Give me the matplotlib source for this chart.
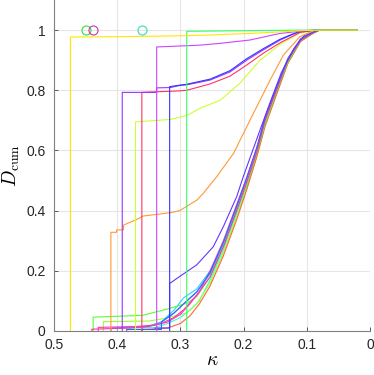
import matplotlib
matplotlib.use("Agg")
import matplotlib.pyplot as plt

# --- curves with a big jump at their first value ---
k_yellow = [0.474, 0.474, 0.40, 0.30, 0.25, 0.20, 0.15, 0.11, 0.08, 0.02]
d_yellow = [0, 0.977, 0.978, 0.981, 0.984, 0.988, 0.993, 0.998, 1, 1]

k_green = [0.29, 0.29, 0.20, 0.10, 0.02]
d_green = [0, 0.996, 0.998, 1, 1]

k_violet = [0.3375, 0.3375, 0.29, 0.269, 0.237, 0.19, 0.142, 0.111, 0.09, 0.02]
d_violet = [0, 0.944, 0.948, 0.95, 0.956, 0.967, 0.989, 0.996, 1, 1]

k_purple = [0.392, 0.392, 0.3375, 0.3375, 0.316, 0.301, 0.29, 0.253, 0.2215, 0.195, 0.169, 0.142, 0.121, 0.111, 0.087, 0.02]
d_purple = [0, 0.793, 0.793, 0.808, 0.809, 0.816, 0.818, 0.834, 0.861, 0.90, 0.934, 0.967, 0.987, 0.995, 1, 1]

k_blue = [0.317, 0.317, 0.301, 0.29, 0.253, 0.2215, 0.195, 0.169, 0.142, 0.121, 0.111, 0.087, 0.02]
d_blue = [0, 0.812, 0.817, 0.82, 0.837, 0.865, 0.905, 0.938, 0.97, 0.988, 0.995, 1, 1]

k_red = [0.361, 0.361, 0.301, 0.29, 0.253, 0.2215, 0.195, 0.169, 0.142, 0.121, 0.111, 0.087, 0.02]
d_red = [0, 0.793, 0.798, 0.80, 0.821, 0.847, 0.884, 0.923, 0.958, 0.981, 0.992, 1, 1]

k_ygreen = [0.371, 0.371, 0.316, 0.29, 0.269, 0.237, 0.206, 0.174, 0.142, 0.111, 0.085, 0.02]
d_ygreen = [0, 0.695, 0.703, 0.716, 0.74, 0.767, 0.823, 0.90, 0.953, 0.99, 1, 1]

k_orange = [0.41, 0.41, 0.401, 0.401, 0.39, 0.39, 0.369, 0.359, 0.316, 0.301, 0.274, 0.264, 0.2425, 0.216, 0.19, 0.174, 0.158, 0.137, 0.111, 0.087, 0.02]
d_orange = [0, 0.328, 0.328, 0.336, 0.336, 0.352, 0.371, 0.382, 0.393, 0.40, 0.435, 0.457, 0.513, 0.59, 0.70, 0.767, 0.834, 0.917, 0.978, 1, 1]

k_bviolet = [0.34, 0.317, 0.317, 0.295, 0.274, 0.248, 0.232, 0.211, 0.2005, 0.174, 0.158, 0.14, 0.12, 0.105, 0.085, 0.02]
d_bviolet = [0.01, 0.01, 0.158, 0.19, 0.22, 0.28, 0.347, 0.446, 0.513, 0.668, 0.76, 0.86, 0.94, 0.98, 1, 1]

# --- the main bundle ---
k_cyan = [0.36, 0.36, 0.33, 0.31, 0.295, 0.274, 0.253, 0.232, 0.211, 0.195, 0.179, 0.166, 0.148, 0.13, 0.11, 0.09, 0.08, 0.02]
d_cyan = [0, 0.01, 0.03, 0.07, 0.11, 0.14, 0.20, 0.29, 0.40, 0.49, 0.59, 0.69, 0.79, 0.895, 0.965, 0.99, 1, 1]

k_sky = [0.41, 0.41, 0.35, 0.33, 0.31, 0.295, 0.274, 0.253, 0.232, 0.211, 0.195, 0.179, 0.166, 0.148, 0.13, 0.11, 0.09, 0.08, 0.02]
d_sky = [0, 0.01, 0.015, 0.03, 0.06, 0.09, 0.13, 0.19, 0.29, 0.41, 0.505, 0.605, 0.705, 0.805, 0.90, 0.968, 0.992, 1, 1]

k_teal = [0.40, 0.40, 0.34, 0.32, 0.30, 0.285, 0.27, 0.253, 0.232, 0.211, 0.195, 0.179, 0.166, 0.148, 0.13, 0.11, 0.09, 0.08, 0.02]
d_teal = [0, 0.008, 0.012, 0.025, 0.045, 0.07, 0.10, 0.17, 0.27, 0.39, 0.48, 0.585, 0.69, 0.79, 0.89, 0.962, 0.99, 1, 1]

k_lime = [0.438, 0.438, 0.36, 0.317, 0.29, 0.274, 0.253, 0.232, 0.211, 0.195, 0.179, 0.166, 0.148, 0.13, 0.11, 0.09, 0.08, 0.02]
d_lime = [0, 0.046, 0.052, 0.075, 0.092, 0.115, 0.18, 0.28, 0.40, 0.49, 0.59, 0.69, 0.795, 0.895, 0.965, 0.99, 1, 1]

k_lime2 = [0.422, 0.422, 0.35, 0.33, 0.31, 0.29, 0.274, 0.253, 0.232, 0.211, 0.195, 0.179, 0.166, 0.148, 0.13, 0.11, 0.09, 0.08, 0.02]
d_lime2 = [0, 0.031, 0.033, 0.04, 0.05, 0.06, 0.09, 0.16, 0.26, 0.38, 0.475, 0.58, 0.685, 0.79, 0.89, 0.963, 0.99, 1, 1]

k_magenta = [0.43, 0.43, 0.37, 0.34, 0.32, 0.30, 0.285, 0.27, 0.253, 0.232, 0.211, 0.195, 0.179, 0.166, 0.148, 0.13, 0.11, 0.09, 0.08, 0.02]
d_magenta = [0, 0.012, 0.015, 0.02, 0.03, 0.055, 0.09, 0.13, 0.20, 0.30, 0.42, 0.51, 0.61, 0.71, 0.81, 0.905, 0.97, 0.993, 1, 1]

k_pink = [0.44, 0.44, 0.38, 0.35, 0.33, 0.31, 0.295, 0.274, 0.253, 0.232, 0.211, 0.195, 0.179, 0.166, 0.148, 0.13, 0.11, 0.09, 0.08, 0.02]
d_pink = [0, 0.006, 0.01, 0.015, 0.025, 0.045, 0.07, 0.12, 0.18, 0.28, 0.40, 0.495, 0.595, 0.70, 0.80, 0.90, 0.966, 0.99, 1, 1]

k_ored = [0.36, 0.36, 0.32, 0.30, 0.285, 0.27, 0.253, 0.232, 0.211, 0.195, 0.179, 0.166, 0.148, 0.13, 0.11, 0.09, 0.08, 0.02]
d_ored = [0, 0.005, 0.01, 0.025, 0.05, 0.09, 0.15, 0.25, 0.37, 0.47, 0.58, 0.68, 0.785, 0.89, 0.962, 0.99, 1, 1]

k_blue2 = [0.385, 0.385, 0.33, 0.33, 0.31, 0.295, 0.274, 0.253, 0.232, 0.211, 0.195, 0.179, 0.166, 0.148, 0.13, 0.11, 0.09, 0.08, 0.02]
d_blue2 = [0, 0.005, 0.005, 0.03, 0.06, 0.09, 0.13, 0.195, 0.295, 0.415, 0.51, 0.61, 0.71, 0.81, 0.905, 0.97, 0.993, 1, 1]

# single points drawn as circles at D = 1
k_circles = [0.45, 0.438, 0.361]
c_circles = ['#33dd44', '#cc33aa', '#33ddbb']

bundle = [
    (k_teal, d_teal, '#33ffcc'),
    (k_lime2, d_lime2, '#99ff33'),
    (k_sky, d_sky, '#3399ff'),
    (k_cyan, d_cyan, '#33ccff'),
    (k_ored, d_ored, '#ff6633'),
    (k_lime, d_lime, '#55ff33'),
    (k_pink, d_pink, '#ff3399'),
    (k_magenta, d_magenta, '#ff33cc'),
    (k_blue2, d_blue2, '#3366ff'),
    (k_bviolet, d_bviolet, '#6633ff'),
]
steps = [
    (k_orange, d_orange, '#ff9933'),
    (k_ygreen, d_ygreen, '#ccff33'),
    (k_red, d_red, '#ff3366'),
    (k_purple, d_purple, '#9933ff'),
    (k_blue, d_blue, '#3333ff'),
    (k_violet, d_violet, '#cc44ff'),
    (k_green, d_green, '#33ff66'),
    (k_yellow, d_yellow, '#ffe600'),
]

plt.rcParams['mathtext.fontset'] = 'cm'
plt.rcParams['font.family'] = 'Liberation Sans'

fig = plt.figure(figsize=(3.74, 3.75), dpi=100)
ax = fig.add_axes([54 / 374, 44 / 375, 316 / 374, 331 / 375])

for k, d, c in bundle + steps:
    ax.plot(k, d, color=c, lw=0.8)

for k, c in zip(k_circles, c_circles):
    ax.plot(k, 1, 'o', mfc='none', mec=c, ms=6.5, mew=0.8)

ax.set_xlim(0.5, 0)
ax.set_ylim(0, 1.1)
ax.set_xticks([0.5, 0.4, 0.3, 0.2, 0.1, 0])
ax.set_xticklabels(['0.5', '0.4', '0.3', '0.2', '0.1', '0'])
ax.set_yticks([0, 0.2, 0.4, 0.6, 0.8, 1])
ax.set_yticklabels(['0', '0.2', '0.4', '0.6', '0.8', '1'])
ax.grid(True, color='#e6e6e6', lw=0.8)
ax.set_axisbelow(True)
ax.tick_params(direction='in', length=3, width=0.6, colors='#404040',
               labelcolor='#262626', labelsize=10)
ax.tick_params(axis='x', pad=5)
ax.tick_params(axis='y', pad=6)
ax.spines['top'].set_visible(False)
ax.spines['right'].set_visible(False)
for s in ['left', 'bottom']:
    ax.spines[s].set_color('#808080')
    ax.spines[s].set_linewidth(0.8)

ax.set_xlabel(r'$\kappa$', fontsize=14, labelpad=0)
ax.set_ylabel(r'$D_{\rm cum}$', fontsize=14, labelpad=3)

fig.savefig('out.png', dpi=100)
